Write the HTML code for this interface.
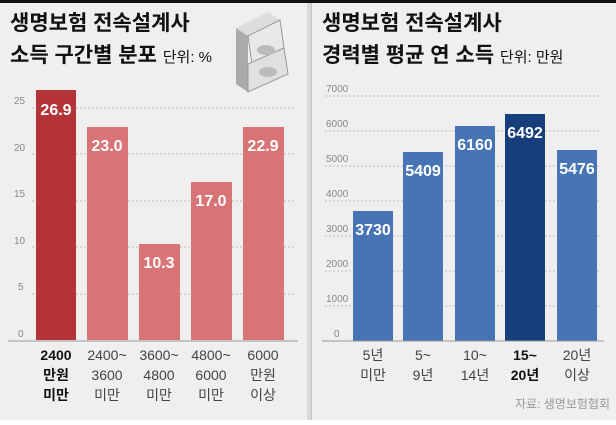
<!DOCTYPE html>
<html><head><meta charset="utf-8"><style>
body{margin:0;width:616px;height:420px;overflow:hidden;background:#fff;font-family:"Liberation Sans","Noto Sans CJK KR",sans-serif;}
svg text{font-family:"Liberation Sans","Noto Sans CJK KR",sans-serif;}
</style></head><body>
<svg width="616" height="420" xmlns="http://www.w3.org/2000/svg">
<rect x="0" y="0" width="616" height="420" fill="#efefef"/>
<rect x="0" y="0" width="616" height="3" fill="#111"/>
<rect x="307" y="3" width="5" height="417" fill="#d8d8d8"/>
<rect x="311" y="3" width="1" height="417" fill="#c4c4c4"/>
<!-- left titles -->
<text x="10" y="30" font-size="21" font-weight="bold" fill="#111">생명보험 전속설계사</text>
<text x="10" y="62" font-size="21" font-weight="bold" fill="#111">소득 구간별 분포 <tspan font-size="15" font-weight="normal">단위: %</tspan></text>
<!-- money icon -->
<g transform="translate(228,8)">
<polygon points="8,20 40,4 52,12 20,28" fill="#ddd"/>
<polygon points="8,20 20,28 20,84 8,76" fill="#aaa"/>
<polygon points="20,28 52,12 56,40 24,56" fill="#e8e8e8" stroke="#999"/>
<polygon points="20,56 56,40 60,66 20,84" fill="#e0e0e0" stroke="#999"/>
<ellipse cx="38" cy="42" rx="9" ry="5" fill="#bbb"/>
<ellipse cx="40" cy="64" rx="9" ry="5" fill="#bbb"/>
</g>
<!-- left grid -->
<g stroke="#bbb" stroke-dasharray="2,2" stroke-width="1">
<line x1="32" y1="108" x2="296" y2="108"/><line x1="32" y1="154" x2="296" y2="154"/>
<line x1="32" y1="201" x2="296" y2="201"/><line x1="32" y1="247" x2="296" y2="247"/>
<line x1="32" y1="294" x2="296" y2="294"/>
</g>
<g font-size="10" fill="#888">
<text x="14" y="104">25</text><text x="14" y="151">20</text><text x="14" y="197">15</text>
<text x="14" y="244">10</text><text x="18" y="290">5</text><text x="18" y="337">0</text>
</g>
<rect x="36" y="90" width="40" height="250" fill="#b43336"/>
<rect x="87" y="127" width="41" height="213" fill="#d87475"/>
<rect x="139" y="244" width="41" height="96" fill="#d87475"/>
<rect x="191" y="182" width="41" height="158" fill="#d87475"/>
<rect x="243" y="127" width="41" height="213" fill="#d87475"/>
<line x1="8" y1="341" x2="298" y2="341" stroke="#999" stroke-width="1"/>
<g font-size="16" font-weight="bold" fill="#fff" text-anchor="middle">
<text x="56" y="115">26.9</text><text x="107" y="151">23.0</text><text x="159" y="268">10.3</text>
<text x="211" y="206">17.0</text><text x="263" y="151">22.9</text>
</g>
<g font-size="14" fill="#444" text-anchor="middle">
<text x="56" y="360" font-weight="bold" fill="#111">2400</text><text x="56" y="380" font-weight="bold" fill="#111">만원</text><text x="56" y="400" font-weight="bold" fill="#111">미만</text>
<text x="107" y="360">2400~</text><text x="107" y="380">3600</text><text x="107" y="400">미만</text>
<text x="159" y="360">3600~</text><text x="159" y="380">4800</text><text x="159" y="400">미만</text>
<text x="211" y="360">4800~</text><text x="211" y="380">6000</text><text x="211" y="400">미만</text>
<text x="263" y="360">6000</text><text x="263" y="380">만원</text><text x="263" y="400">이상</text>
</g>
<!-- right -->
<text x="322" y="30" font-size="21" font-weight="bold" fill="#111">생명보험 전속설계사</text>
<text x="322" y="62" font-size="21" font-weight="bold" fill="#111">경력별 평균 연 소득 <tspan font-size="15" font-weight="normal">단위: 만원</tspan></text>
<g stroke="#bbb" stroke-dasharray="2,2" stroke-width="1">
<line x1="325" y1="96" x2="600" y2="96"/><line x1="325" y1="131" x2="600" y2="131"/>
<line x1="325" y1="166" x2="600" y2="166"/><line x1="325" y1="201" x2="600" y2="201"/>
<line x1="325" y1="236" x2="600" y2="236"/><line x1="325" y1="271" x2="600" y2="271"/>
<line x1="325" y1="306" x2="600" y2="306"/>
</g>
<g font-size="10" fill="#888">
<text x="326" y="92">7000</text><text x="326" y="127">6000</text><text x="326" y="162">5000</text>
<text x="326" y="197">4000</text><text x="326" y="232">3000</text><text x="326" y="267">2000</text>
<text x="326" y="302">1000</text><text x="334" y="337">0</text>
</g>
<rect x="353" y="211" width="40" height="130" fill="#4774b4"/>
<rect x="403" y="152" width="40" height="189" fill="#4774b4"/>
<rect x="455" y="126" width="40" height="215" fill="#4774b4"/>
<rect x="505" y="114" width="40" height="227" fill="#163f7c"/>
<rect x="557" y="150" width="40" height="191" fill="#4774b4"/>
<line x1="322" y1="341" x2="604" y2="341" stroke="#999" stroke-width="1"/>
<g font-size="16" font-weight="bold" fill="#fff" text-anchor="middle">
<text x="373" y="235">3730</text><text x="423" y="176">5409</text><text x="475" y="150">6160</text>
<text x="525" y="138">6492</text><text x="577" y="174">5476</text>
</g>
<g font-size="14" fill="#444" text-anchor="middle">
<text x="373" y="360">5년</text><text x="373" y="380">미만</text>
<text x="423" y="360">5~</text><text x="423" y="380">9년</text>
<text x="475" y="360">10~</text><text x="475" y="380">14년</text>
<text x="525" y="360" font-weight="bold" fill="#111">15~</text><text x="525" y="380" font-weight="bold" fill="#111">20년</text>
<text x="577" y="360">20년</text><text x="577" y="380">이상</text>
</g>
<text x="610" y="408" font-size="12" fill="#999" text-anchor="end">자료: 생명보험협회</text>
</svg>
</body></html>
